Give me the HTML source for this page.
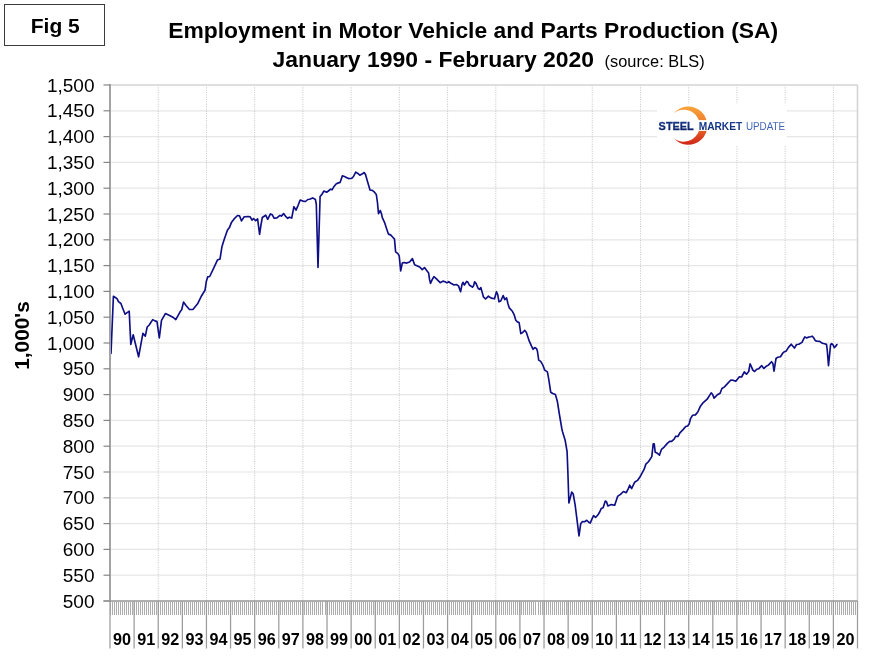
<!DOCTYPE html><html><head><meta charset="utf-8"><title>Employment in Motor Vehicle and Parts Production</title>
<style>html,body{margin:0;padding:0;background:#fff;}svg{display:block;}text{font-family:"Liberation Sans",Arial,sans-serif;}</style></head><body>
<svg width="872" height="671" viewBox="0 0 872 671">
<rect x="0" y="0" width="872" height="671" fill="#fff"/>
<rect x="4.5" y="4.5" width="100" height="41" fill="#fff" stroke="#3c3c3c" stroke-width="1"/>
<text x="55.3" y="33" font-size="21" font-weight="bold" text-anchor="middle" fill="#000">Fig 5</text>
<text x="168.2" y="38.1" font-size="22.6" font-weight="bold" textLength="610" lengthAdjust="spacingAndGlyphs" fill="#000">Employment in Motor Vehicle and Parts Production (SA)</text>
<text x="272.6" y="66.6" font-size="22.6" font-weight="bold" textLength="321.5" lengthAdjust="spacingAndGlyphs" fill="#000">January 1990 - February 2020</text>
<text x="604.6" y="66.5" font-size="16.4" textLength="100" lengthAdjust="spacingAndGlyphs" fill="#000">(source: BLS)</text>
<line x1="110.0" y1="110.80" x2="857.5" y2="110.80" stroke="#e6e6e6" stroke-width="1.2"/>
<line x1="110.0" y1="136.60" x2="857.5" y2="136.60" stroke="#e6e6e6" stroke-width="1.2"/>
<line x1="110.0" y1="162.40" x2="857.5" y2="162.40" stroke="#e6e6e6" stroke-width="1.2"/>
<line x1="110.0" y1="188.20" x2="857.5" y2="188.20" stroke="#e6e6e6" stroke-width="1.2"/>
<line x1="110.0" y1="214.00" x2="857.5" y2="214.00" stroke="#e6e6e6" stroke-width="1.2"/>
<line x1="110.0" y1="239.80" x2="857.5" y2="239.80" stroke="#e6e6e6" stroke-width="1.2"/>
<line x1="110.0" y1="265.60" x2="857.5" y2="265.60" stroke="#e6e6e6" stroke-width="1.2"/>
<line x1="110.0" y1="291.40" x2="857.5" y2="291.40" stroke="#e6e6e6" stroke-width="1.2"/>
<line x1="110.0" y1="317.20" x2="857.5" y2="317.20" stroke="#e6e6e6" stroke-width="1.2"/>
<line x1="110.0" y1="343.00" x2="857.5" y2="343.00" stroke="#e6e6e6" stroke-width="1.2"/>
<line x1="110.0" y1="368.80" x2="857.5" y2="368.80" stroke="#e6e6e6" stroke-width="1.2"/>
<line x1="110.0" y1="394.60" x2="857.5" y2="394.60" stroke="#e6e6e6" stroke-width="1.2"/>
<line x1="110.0" y1="420.40" x2="857.5" y2="420.40" stroke="#e6e6e6" stroke-width="1.2"/>
<line x1="110.0" y1="446.20" x2="857.5" y2="446.20" stroke="#e6e6e6" stroke-width="1.2"/>
<line x1="110.0" y1="472.00" x2="857.5" y2="472.00" stroke="#e6e6e6" stroke-width="1.2"/>
<line x1="110.0" y1="497.80" x2="857.5" y2="497.80" stroke="#e6e6e6" stroke-width="1.2"/>
<line x1="110.0" y1="523.60" x2="857.5" y2="523.60" stroke="#e6e6e6" stroke-width="1.2"/>
<line x1="110.0" y1="549.40" x2="857.5" y2="549.40" stroke="#e6e6e6" stroke-width="1.2"/>
<line x1="110.0" y1="575.20" x2="857.5" y2="575.20" stroke="#e6e6e6" stroke-width="1.2"/>
<line x1="158.23" y1="85.0" x2="158.23" y2="601.0" stroke="#c4c4c4" stroke-width="1" stroke-dasharray="1,1.35"/>
<line x1="206.45" y1="85.0" x2="206.45" y2="601.0" stroke="#c4c4c4" stroke-width="1" stroke-dasharray="1,1.35"/>
<line x1="254.68" y1="85.0" x2="254.68" y2="601.0" stroke="#c4c4c4" stroke-width="1" stroke-dasharray="1,1.35"/>
<line x1="302.90" y1="85.0" x2="302.90" y2="601.0" stroke="#c4c4c4" stroke-width="1" stroke-dasharray="1,1.35"/>
<line x1="351.13" y1="85.0" x2="351.13" y2="601.0" stroke="#c4c4c4" stroke-width="1" stroke-dasharray="1,1.35"/>
<line x1="399.35" y1="85.0" x2="399.35" y2="601.0" stroke="#c4c4c4" stroke-width="1" stroke-dasharray="1,1.35"/>
<line x1="447.58" y1="85.0" x2="447.58" y2="601.0" stroke="#c4c4c4" stroke-width="1" stroke-dasharray="1,1.35"/>
<line x1="495.81" y1="85.0" x2="495.81" y2="601.0" stroke="#c4c4c4" stroke-width="1" stroke-dasharray="1,1.35"/>
<line x1="544.03" y1="85.0" x2="544.03" y2="601.0" stroke="#c4c4c4" stroke-width="1" stroke-dasharray="1,1.35"/>
<line x1="592.26" y1="85.0" x2="592.26" y2="601.0" stroke="#c4c4c4" stroke-width="1" stroke-dasharray="1,1.35"/>
<line x1="640.48" y1="85.0" x2="640.48" y2="601.0" stroke="#c4c4c4" stroke-width="1" stroke-dasharray="1,1.35"/>
<line x1="688.71" y1="85.0" x2="688.71" y2="601.0" stroke="#c4c4c4" stroke-width="1" stroke-dasharray="1,1.35"/>
<line x1="736.94" y1="85.0" x2="736.94" y2="601.0" stroke="#c4c4c4" stroke-width="1" stroke-dasharray="1,1.35"/>
<line x1="785.16" y1="85.0" x2="785.16" y2="601.0" stroke="#c4c4c4" stroke-width="1" stroke-dasharray="1,1.35"/>
<line x1="833.39" y1="85.0" x2="833.39" y2="601.0" stroke="#c4c4c4" stroke-width="1" stroke-dasharray="1,1.35"/>
<line x1="110.0" y1="85.0" x2="857.5" y2="85.0" stroke="#d4d4d4" stroke-width="1.6"/>
<line x1="857.5" y1="85.0" x2="857.5" y2="601.0" stroke="#d4d4d4" stroke-width="1.6"/>
<rect x="657" y="104" width="130" height="41" fill="#fff"/>
<defs><linearGradient id="lg" x1="0" y1="0" x2="0" y2="1"><stop offset="0" stop-color="#f8a43a"/><stop offset="0.45" stop-color="#f07a2c"/><stop offset="1" stop-color="#cf2418"/></linearGradient><linearGradient id="tg" x1="0" y1="0" x2="0" y2="1"><stop offset="0" stop-color="#1c3f96"/><stop offset="1" stop-color="#081c62"/></linearGradient><linearGradient id="tg3" x1="0" y1="0" x2="0" y2="1"><stop offset="0" stop-color="#1e4aa2"/><stop offset="1" stop-color="#0a226e"/></linearGradient><linearGradient id="tg2" x1="0" y1="0" x2="0" y2="1"><stop offset="0" stop-color="#5c80c8"/><stop offset="1" stop-color="#2c50a6"/></linearGradient></defs>
<path d="M 673.6 113.0 A 19.1 19.1 0 1 1 673.6 138.3 A 16.0 16.0 0 1 0 673.6 113.0 Z" fill="url(#lg)" transform="translate(0.3,0)"/>
<rect x="662" y="120.1" width="50" height="10.8" fill="#fff"/>
<text x="658.6" y="129.5" font-size="11.8" font-weight="bold" fill="url(#tg)" stroke="url(#tg)" stroke-width="0.3" textLength="35.2" lengthAdjust="spacingAndGlyphs">STEEL</text>
<text x="698.7" y="129.5" font-size="11.8" fill="url(#tg3)" font-weight="bold" textLength="43.5" lengthAdjust="spacingAndGlyphs">MARKET</text>
<text x="745.9" y="129.5" font-size="11.8" fill="url(#tg2)" textLength="39.2" lengthAdjust="spacingAndGlyphs">UPDATE</text>
<path d="M 111.0 353.5 L 113.4 296.3 L 115.3 297.5 L 117.0 298.7 L 118.5 301.7 L 120.9 303.5 L 122.7 308.2 L 125.1 314.2 L 127.5 312.4 L 129.2 311.2 L 130.8 344.4 L 133.2 334.8 L 138.6 356.8 L 142.9 333.4 L 145.3 336.1 L 147.2 327.0 L 149.2 325.0 L 152.7 319.6 L 155.0 320.9 L 157.0 321.6 L 159.3 338.0 L 161.5 320.4 L 165.4 313.6 L 170.1 315.8 L 172.8 317.2 L 175.8 319.6 L 180.1 311.8 L 181.7 309.8 L 183.5 302.1 L 186.2 305.8 L 189.5 309.5 L 192.9 309.5 L 197.6 303.8 L 201.6 295.7 L 205.0 290.3 L 206.3 281.6 L 207.7 276.9 L 209.7 276.5 L 213.7 268.2 L 217.4 260.1 L 220.0 259.1 L 222.0 246.4 L 224.1 239.7 L 227.4 230.3 L 229.4 227.6 L 231.4 222.6 L 234.1 218.9 L 237.5 215.5 L 239.5 215.8 L 241.5 220.9 L 244.2 216.8 L 248.2 216.6 L 250.2 216.8 L 252.0 220.2 L 253.6 218.5 L 255.6 220.6 L 257.6 218.9 L 259.6 234.3 L 261.0 224.9 L 262.3 217.5 L 265.7 215.2 L 267.7 219.3 L 270.4 213.9 L 272.3 214.8 L 274.2 218.3 L 276.9 217.9 L 280.0 215.4 L 281.4 216.1 L 283.6 213.6 L 285.4 216.1 L 287.7 218.3 L 289.4 217.2 L 291.7 218.1 L 293.9 206.7 L 296.0 210.2 L 297.9 205.8 L 300.2 200.0 L 302.9 201.1 L 305.5 201.5 L 307.8 199.5 L 309.6 199.3 L 312.7 197.9 L 315.4 199.5 L 316.3 204.0 L 318.0 267.5 L 320.1 196.5 L 322.1 194.1 L 323.9 191.0 L 326.6 192.2 L 328.4 191.0 L 330.6 189.2 L 332.0 189.8 L 333.8 186.8 L 336.1 184.0 L 337.8 183.1 L 340.1 182.4 L 342.3 175.9 L 344.5 176.5 L 346.3 177.4 L 348.6 178.6 L 351.7 178.3 L 353.5 176.5 L 355.7 172.1 L 357.5 173.2 L 359.8 175.2 L 362.0 174.1 L 364.2 172.5 L 365.6 174.8 L 367.8 182.4 L 370.0 190.0 L 372.3 190.4 L 374.5 192.2 L 376.3 194.4 L 377.4 202.0 L 378.5 213.7 L 380.3 210.5 L 381.7 214.6 L 382.2 217.3 L 384.5 222.3 L 386.7 229.0 L 388.4 234.1 L 390.6 234.9 L 392.8 237.2 L 394.5 239.1 L 395.6 251.9 L 397.9 253.6 L 399.2 255.8 L 400.7 270.9 L 402.3 263.1 L 404.0 262.5 L 406.8 263.1 L 409.6 262.0 L 412.4 258.6 L 414.6 264.8 L 417.4 265.9 L 419.7 267.0 L 422.2 269.6 L 424.5 267.6 L 426.7 270.4 L 428.6 272.9 L 429.5 279.2 L 430.5 283.4 L 432.2 279.6 L 433.9 276.6 L 436.2 278.7 L 438.4 280.9 L 440.2 282.7 L 442.9 281.1 L 445.1 281.8 L 446.9 282.9 L 448.7 281.7 L 450.9 283.2 L 454.1 285.0 L 456.3 284.5 L 458.5 285.9 L 460.6 291.7 L 462.1 284.1 L 463.0 282.3 L 464.4 285.0 L 466.6 281.4 L 467.8 282.0 L 469.3 285.0 L 472.4 287.2 L 473.7 285.4 L 474.6 281.8 L 476.0 283.4 L 478.2 288.5 L 479.6 289.4 L 480.9 287.6 L 481.7 290.6 L 483.4 296.8 L 485.6 299.0 L 488.4 296.2 L 491.2 298.1 L 494.5 298.8 L 496.5 291.7 L 497.7 294.5 L 499.0 301.8 L 500.7 301.0 L 503.2 295.6 L 504.8 299.6 L 506.6 297.9 L 507.9 303.5 L 509.3 307.9 L 512.4 311.3 L 514.1 314.6 L 515.8 320.2 L 517.4 321.9 L 519.1 322.5 L 520.8 333.6 L 522.7 332.5 L 524.7 330.3 L 526.4 332.5 L 529.2 340.9 L 531.4 345.9 L 533.1 349.3 L 534.7 347.6 L 536.4 348.4 L 537.4 351.0 L 538.7 360.1 L 540.7 361.4 L 542.7 364.8 L 544.7 370.1 L 547.4 371.9 L 548.7 378.8 L 550.7 392.2 L 552.8 393.5 L 555.4 394.6 L 557.4 401.6 L 559.5 415.0 L 561.9 429.0 L 562.4 431.2 L 565.2 440.5 L 567.1 451.7 L 567.8 470.0 L 568.9 503.0 L 571.7 492.1 L 573.2 494.0 L 575.1 504.7 L 576.8 518.1 L 579.0 536.0 L 580.7 523.7 L 582.4 521.5 L 584.6 521.7 L 586.8 520.3 L 588.5 522.0 L 590.2 523.1 L 591.9 519.2 L 593.6 515.6 L 595.6 517.5 L 598.0 514.7 L 599.7 512.0 L 601.2 508.6 L 603.1 507.8 L 605.3 501.1 L 606.5 501.7 L 607.9 506.0 L 611.3 504.6 L 614.7 505.3 L 617.6 496.4 L 620.5 494.4 L 623.4 491.5 L 626.3 492.7 L 628.3 488.6 L 629.7 485.2 L 631.6 488.6 L 634.6 482.3 L 637.5 480.4 L 639.9 477.0 L 641.8 473.6 L 644.2 469.2 L 645.7 464.4 L 648.6 461.5 L 651.8 456.6 L 653.2 443.9 L 654.2 443.9 L 655.2 452.2 L 657.1 453.1 L 659.5 455.1 L 661.5 449.3 L 664.4 446.8 L 667.3 443.4 L 669.7 441.3 L 671.6 441.3 L 674.1 439.1 L 675.8 436.2 L 677.9 436.5 L 679.9 432.8 L 682.8 429.9 L 685.7 426.5 L 687.6 426.0 L 689.1 424.1 L 690.5 418.7 L 692.5 415.3 L 695.4 414.9 L 697.8 412.0 L 700.2 406.6 L 702.7 403.2 L 707.2 399.2 L 709.4 395.6 L 711.2 392.9 L 712.5 394.3 L 714.1 398.1 L 717.4 394.7 L 720.1 393.2 L 721.9 388.5 L 724.2 387.1 L 726.8 384.4 L 728.6 382.4 L 730.9 380.0 L 733.1 380.2 L 735.8 381.3 L 739.4 376.8 L 741.6 377.0 L 744.3 371.9 L 746.5 374.2 L 748.7 371.5 L 750.1 363.9 L 751.4 366.5 L 752.8 370.1 L 754.6 371.5 L 756.8 369.2 L 758.6 368.8 L 761.7 365.7 L 763.9 368.4 L 766.2 366.3 L 768.4 365.1 L 771.5 361.7 L 772.9 363.5 L 774.0 371.1 L 776.0 358.5 L 777.8 357.2 L 780.5 356.8 L 782.7 353.2 L 784.5 351.7 L 786.3 350.9 L 788.5 347.4 L 791.2 344.2 L 794.4 348.1 L 796.6 344.5 L 798.8 344.2 L 802.0 342.4 L 803.7 338.8 L 804.8 336.9 L 806.7 338.0 L 808.6 337.1 L 810.4 336.8 L 812.3 336.2 L 813.8 338.0 L 815.3 340.6 L 817.1 341.2 L 819.7 341.4 L 822.4 343.3 L 824.6 343.8 L 826.5 344.4 L 827.2 349.6 L 828.5 365.6 L 830.6 344.7 L 831.7 343.6 L 833.2 345.1 L 834.3 347.7 L 835.8 346.2 L 836.9 344.5" fill="none" stroke="#0e0e86" stroke-width="1.65" stroke-linejoin="round" stroke-linecap="round"/>
<line x1="110.0" y1="84.0" x2="110.0" y2="602.0" stroke="#a4a4a4" stroke-width="2"/>
<line x1="103.5" y1="85.00" x2="110.0" y2="85.00" stroke="#858585" stroke-width="1.2"/>
<text x="94.5" y="91.60" font-size="19" text-anchor="end" fill="#000">1,500</text>
<line x1="103.5" y1="110.80" x2="110.0" y2="110.80" stroke="#858585" stroke-width="1.2"/>
<text x="94.5" y="117.40" font-size="19" text-anchor="end" fill="#000">1,450</text>
<line x1="103.5" y1="136.60" x2="110.0" y2="136.60" stroke="#858585" stroke-width="1.2"/>
<text x="94.5" y="143.20" font-size="19" text-anchor="end" fill="#000">1,400</text>
<line x1="103.5" y1="162.40" x2="110.0" y2="162.40" stroke="#858585" stroke-width="1.2"/>
<text x="94.5" y="169.00" font-size="19" text-anchor="end" fill="#000">1,350</text>
<line x1="103.5" y1="188.20" x2="110.0" y2="188.20" stroke="#858585" stroke-width="1.2"/>
<text x="94.5" y="194.80" font-size="19" text-anchor="end" fill="#000">1,300</text>
<line x1="103.5" y1="214.00" x2="110.0" y2="214.00" stroke="#858585" stroke-width="1.2"/>
<text x="94.5" y="220.60" font-size="19" text-anchor="end" fill="#000">1,250</text>
<line x1="103.5" y1="239.80" x2="110.0" y2="239.80" stroke="#858585" stroke-width="1.2"/>
<text x="94.5" y="246.40" font-size="19" text-anchor="end" fill="#000">1,200</text>
<line x1="103.5" y1="265.60" x2="110.0" y2="265.60" stroke="#858585" stroke-width="1.2"/>
<text x="94.5" y="272.20" font-size="19" text-anchor="end" fill="#000">1,150</text>
<line x1="103.5" y1="291.40" x2="110.0" y2="291.40" stroke="#858585" stroke-width="1.2"/>
<text x="94.5" y="298.00" font-size="19" text-anchor="end" fill="#000">1,100</text>
<line x1="103.5" y1="317.20" x2="110.0" y2="317.20" stroke="#858585" stroke-width="1.2"/>
<text x="94.5" y="323.80" font-size="19" text-anchor="end" fill="#000">1,050</text>
<line x1="103.5" y1="343.00" x2="110.0" y2="343.00" stroke="#858585" stroke-width="1.2"/>
<text x="94.5" y="349.60" font-size="19" text-anchor="end" fill="#000">1,000</text>
<line x1="103.5" y1="368.80" x2="110.0" y2="368.80" stroke="#858585" stroke-width="1.2"/>
<text x="94.5" y="375.40" font-size="19" text-anchor="end" fill="#000">950</text>
<line x1="103.5" y1="394.60" x2="110.0" y2="394.60" stroke="#858585" stroke-width="1.2"/>
<text x="94.5" y="401.20" font-size="19" text-anchor="end" fill="#000">900</text>
<line x1="103.5" y1="420.40" x2="110.0" y2="420.40" stroke="#858585" stroke-width="1.2"/>
<text x="94.5" y="427.00" font-size="19" text-anchor="end" fill="#000">850</text>
<line x1="103.5" y1="446.20" x2="110.0" y2="446.20" stroke="#858585" stroke-width="1.2"/>
<text x="94.5" y="452.80" font-size="19" text-anchor="end" fill="#000">800</text>
<line x1="103.5" y1="472.00" x2="110.0" y2="472.00" stroke="#858585" stroke-width="1.2"/>
<text x="94.5" y="478.60" font-size="19" text-anchor="end" fill="#000">750</text>
<line x1="103.5" y1="497.80" x2="110.0" y2="497.80" stroke="#858585" stroke-width="1.2"/>
<text x="94.5" y="504.40" font-size="19" text-anchor="end" fill="#000">700</text>
<line x1="103.5" y1="523.60" x2="110.0" y2="523.60" stroke="#858585" stroke-width="1.2"/>
<text x="94.5" y="530.20" font-size="19" text-anchor="end" fill="#000">650</text>
<line x1="103.5" y1="549.40" x2="110.0" y2="549.40" stroke="#858585" stroke-width="1.2"/>
<text x="94.5" y="556.00" font-size="19" text-anchor="end" fill="#000">600</text>
<line x1="103.5" y1="575.20" x2="110.0" y2="575.20" stroke="#858585" stroke-width="1.2"/>
<text x="94.5" y="581.80" font-size="19" text-anchor="end" fill="#000">550</text>
<line x1="103.5" y1="601.00" x2="110.0" y2="601.00" stroke="#858585" stroke-width="1.2"/>
<text x="94.5" y="607.60" font-size="19" text-anchor="end" fill="#000">500</text>
<line x1="103.5" y1="601.0" x2="857.5" y2="601.0" stroke="#969696" stroke-width="1.5"/>
<path d="M110.5 601.0 V615 M112.5 601.0 V615 M114.5 601.0 V615 M116.5 601.0 V615 M118.5 601.0 V615 M120.5 601.0 V615 M122.5 601.0 V615 M124.5 601.0 V615 M126.5 601.0 V615 M128.5 601.0 V615 M130.5 601.0 V615 M132.5 601.0 V615 M134.5 601.0 V615 M136.5 601.0 V615 M138.5 601.0 V615 M140.5 601.0 V615 M142.5 601.0 V615 M144.5 601.0 V615 M146.5 601.0 V615 M148.5 601.0 V615 M150.5 601.0 V615 M152.5 601.0 V615 M154.5 601.0 V615 M156.5 601.0 V615 M158.5 601.0 V615 M160.5 601.0 V615 M162.5 601.0 V615 M164.5 601.0 V615 M166.5 601.0 V615 M168.5 601.0 V615 M170.5 601.0 V615 M172.5 601.0 V615 M174.5 601.0 V615 M176.5 601.0 V615 M178.5 601.0 V615 M180.5 601.0 V615 M182.5 601.0 V615 M184.5 601.0 V615 M186.5 601.0 V615 M188.5 601.0 V615 M190.5 601.0 V615 M192.5 601.0 V615 M194.5 601.0 V615 M196.5 601.0 V615 M198.5 601.0 V615 M200.5 601.0 V615 M202.5 601.0 V615 M204.5 601.0 V615 M206.5 601.0 V615 M208.5 601.0 V615 M210.5 601.0 V615 M212.5 601.0 V615 M214.5 601.0 V615 M216.5 601.0 V615 M218.5 601.0 V615 M220.5 601.0 V615 M222.5 601.0 V615 M224.5 601.0 V615 M226.5 601.0 V615 M228.5 601.0 V615 M230.5 601.0 V615 M232.5 601.0 V615 M234.5 601.0 V615 M236.5 601.0 V615 M238.5 601.0 V615 M240.5 601.0 V615 M242.5 601.0 V615 M244.5 601.0 V615 M246.5 601.0 V615 M248.5 601.0 V615 M250.5 601.0 V615 M252.5 601.0 V615 M254.5 601.0 V615 M256.5 601.0 V615 M258.5 601.0 V615 M260.5 601.0 V615 M262.5 601.0 V615 M264.5 601.0 V615 M266.5 601.0 V615 M268.5 601.0 V615 M270.5 601.0 V615 M272.5 601.0 V615 M274.5 601.0 V615 M276.5 601.0 V615 M278.5 601.0 V615 M280.5 601.0 V615 M282.5 601.0 V615 M284.5 601.0 V615 M286.5 601.0 V615 M288.5 601.0 V615 M290.5 601.0 V615 M292.5 601.0 V615 M294.5 601.0 V615 M296.5 601.0 V615 M298.5 601.0 V615 M300.5 601.0 V615 M302.5 601.0 V615 M304.5 601.0 V615 M306.5 601.0 V615 M308.5 601.0 V615 M310.5 601.0 V615 M312.5 601.0 V615 M314.5 601.0 V615 M316.5 601.0 V615 M318.5 601.0 V615 M320.5 601.0 V615 M322.5 601.0 V615 M325.5 601.0 V615 M327.5 601.0 V615 M329.5 601.0 V615 M331.5 601.0 V615 M333.5 601.0 V615 M335.5 601.0 V615 M337.5 601.0 V615 M339.5 601.0 V615 M341.5 601.0 V615 M343.5 601.0 V615 M345.5 601.0 V615 M347.5 601.0 V615 M349.5 601.0 V615 M351.5 601.0 V615 M353.5 601.0 V615 M355.5 601.0 V615 M357.5 601.0 V615 M359.5 601.0 V615 M361.5 601.0 V615 M363.5 601.0 V615 M365.5 601.0 V615 M367.5 601.0 V615 M369.5 601.0 V615 M371.5 601.0 V615 M373.5 601.0 V615 M375.5 601.0 V615 M377.5 601.0 V615 M379.5 601.0 V615 M381.5 601.0 V615 M383.5 601.0 V615 M385.5 601.0 V615 M387.5 601.0 V615 M389.5 601.0 V615 M391.5 601.0 V615 M393.5 601.0 V615 M395.5 601.0 V615 M397.5 601.0 V615 M399.5 601.0 V615 M401.5 601.0 V615 M403.5 601.0 V615 M405.5 601.0 V615 M407.5 601.0 V615 M409.5 601.0 V615 M411.5 601.0 V615 M413.5 601.0 V615 M415.5 601.0 V615 M417.5 601.0 V615 M419.5 601.0 V615 M421.5 601.0 V615 M423.5 601.0 V615 M425.5 601.0 V615 M427.5 601.0 V615 M429.5 601.0 V615 M431.5 601.0 V615 M433.5 601.0 V615 M435.5 601.0 V615 M437.5 601.0 V615 M439.5 601.0 V615 M441.5 601.0 V615 M443.5 601.0 V615 M445.5 601.0 V615 M447.5 601.0 V615 M449.5 601.0 V615 M451.5 601.0 V615 M453.5 601.0 V615 M455.5 601.0 V615 M457.5 601.0 V615 M459.5 601.0 V615 M461.5 601.0 V615 M463.5 601.0 V615 M465.5 601.0 V615 M467.5 601.0 V615 M469.5 601.0 V615 M471.5 601.0 V615 M473.5 601.0 V615 M475.5 601.0 V615 M477.5 601.0 V615 M479.5 601.0 V615 M481.5 601.0 V615 M483.5 601.0 V615 M485.5 601.0 V615 M487.5 601.0 V615 M489.5 601.0 V615 M491.5 601.0 V615 M493.5 601.0 V615 M495.5 601.0 V615 M497.5 601.0 V615 M499.5 601.0 V615 M501.5 601.0 V615 M503.5 601.0 V615 M505.5 601.0 V615 M507.5 601.0 V615 M509.5 601.0 V615 M511.5 601.0 V615 M513.5 601.0 V615 M515.5 601.0 V615 M517.5 601.0 V615 M519.5 601.0 V615 M521.5 601.0 V615 M523.5 601.0 V615 M525.5 601.0 V615 M527.5 601.0 V615 M529.5 601.0 V615 M531.5 601.0 V615 M533.5 601.0 V615 M535.5 601.0 V615 M538.5 601.0 V615 M540.5 601.0 V615 M542.5 601.0 V615 M544.5 601.0 V615 M546.5 601.0 V615 M548.5 601.0 V615 M550.5 601.0 V615 M552.5 601.0 V615 M554.5 601.0 V615 M556.5 601.0 V615 M558.5 601.0 V615 M560.5 601.0 V615 M562.5 601.0 V615 M564.5 601.0 V615 M566.5 601.0 V615 M568.5 601.0 V615 M570.5 601.0 V615 M572.5 601.0 V615 M574.5 601.0 V615 M576.5 601.0 V615 M578.5 601.0 V615 M580.5 601.0 V615 M582.5 601.0 V615 M584.5 601.0 V615 M586.5 601.0 V615 M588.5 601.0 V615 M590.5 601.0 V615 M592.5 601.0 V615 M594.5 601.0 V615 M596.5 601.0 V615 M598.5 601.0 V615 M600.5 601.0 V615 M602.5 601.0 V615 M604.5 601.0 V615 M606.5 601.0 V615 M608.5 601.0 V615 M610.5 601.0 V615 M612.5 601.0 V615 M614.5 601.0 V615 M616.5 601.0 V615 M618.5 601.0 V615 M620.5 601.0 V615 M622.5 601.0 V615 M624.5 601.0 V615 M626.5 601.0 V615 M628.5 601.0 V615 M630.5 601.0 V615 M632.5 601.0 V615 M634.5 601.0 V615 M636.5 601.0 V615 M638.5 601.0 V615 M640.5 601.0 V615 M642.5 601.0 V615 M644.5 601.0 V615 M646.5 601.0 V615 M648.5 601.0 V615 M650.5 601.0 V615 M652.5 601.0 V615 M654.5 601.0 V615 M656.5 601.0 V615 M658.5 601.0 V615 M660.5 601.0 V615 M662.5 601.0 V615 M664.5 601.0 V615 M666.5 601.0 V615 M668.5 601.0 V615 M670.5 601.0 V615 M672.5 601.0 V615 M674.5 601.0 V615 M676.5 601.0 V615 M678.5 601.0 V615 M680.5 601.0 V615 M682.5 601.0 V615 M684.5 601.0 V615 M686.5 601.0 V615 M688.5 601.0 V615 M690.5 601.0 V615 M692.5 601.0 V615 M694.5 601.0 V615 M696.5 601.0 V615 M698.5 601.0 V615 M700.5 601.0 V615 M702.5 601.0 V615 M704.5 601.0 V615 M706.5 601.0 V615 M708.5 601.0 V615 M710.5 601.0 V615 M712.5 601.0 V615 M714.5 601.0 V615 M716.5 601.0 V615 M718.5 601.0 V615 M720.5 601.0 V615 M722.5 601.0 V615 M724.5 601.0 V615 M726.5 601.0 V615 M728.5 601.0 V615 M730.5 601.0 V615 M732.5 601.0 V615 M734.5 601.0 V615 M736.5 601.0 V615 M738.5 601.0 V615 M740.5 601.0 V615 M742.5 601.0 V615 M744.5 601.0 V615 M746.5 601.0 V615 M748.5 601.0 V615 M751.5 601.0 V615 M753.5 601.0 V615 M755.5 601.0 V615 M757.5 601.0 V615 M759.5 601.0 V615 M761.5 601.0 V615 M763.5 601.0 V615 M765.5 601.0 V615 M767.5 601.0 V615 M769.5 601.0 V615 M771.5 601.0 V615 M773.5 601.0 V615 M775.5 601.0 V615 M777.5 601.0 V615 M779.5 601.0 V615 M781.5 601.0 V615 M783.5 601.0 V615 M785.5 601.0 V615 M787.5 601.0 V615 M789.5 601.0 V615 M791.5 601.0 V615 M793.5 601.0 V615 M795.5 601.0 V615 M797.5 601.0 V615 M799.5 601.0 V615 M801.5 601.0 V615 M803.5 601.0 V615 M805.5 601.0 V615 M807.5 601.0 V615 M809.5 601.0 V615 M811.5 601.0 V615 M813.5 601.0 V615 M815.5 601.0 V615 M817.5 601.0 V615 M819.5 601.0 V615 M821.5 601.0 V615 M823.5 601.0 V615 M825.5 601.0 V615 M827.5 601.0 V615 M829.5 601.0 V615 M831.5 601.0 V615 M833.5 601.0 V615 M835.5 601.0 V615 M837.5 601.0 V615 M839.5 601.0 V615 M841.5 601.0 V615 M843.5 601.0 V615 M845.5 601.0 V615 M847.5 601.0 V615 M849.5 601.0 V615 M851.5 601.0 V615 M853.5 601.0 V615 M855.5 601.0 V615 M857.5 601.0 V615" stroke="#acacac" stroke-width="1" fill="none" shape-rendering="crispEdges"/>
<path d="M110.00 601.0 V648.6 M134.11 601.0 V648.6 M158.23 601.0 V648.6 M182.34 601.0 V648.6 M206.45 601.0 V648.6 M230.56 601.0 V648.6 M254.68 601.0 V648.6 M278.79 601.0 V648.6 M302.90 601.0 V648.6 M327.02 601.0 V648.6 M351.13 601.0 V648.6 M375.24 601.0 V648.6 M399.35 601.0 V648.6 M423.47 601.0 V648.6 M447.58 601.0 V648.6 M471.69 601.0 V648.6 M495.81 601.0 V648.6 M519.92 601.0 V648.6 M544.03 601.0 V648.6 M568.15 601.0 V648.6 M592.26 601.0 V648.6 M616.37 601.0 V648.6 M640.48 601.0 V648.6 M664.60 601.0 V648.6 M688.71 601.0 V648.6 M712.82 601.0 V648.6 M736.94 601.0 V648.6 M761.05 601.0 V648.6 M785.16 601.0 V648.6 M809.27 601.0 V648.6 M833.39 601.0 V648.6 M857.50 601.0 V648.6" stroke="#9c9c9c" stroke-width="1.25" fill="none"/>
<text x="122.06" y="644.8" font-size="16.2" font-weight="bold" text-anchor="middle" fill="#000">90</text>
<text x="146.17" y="644.8" font-size="16.2" font-weight="bold" text-anchor="middle" fill="#000">91</text>
<text x="170.28" y="644.8" font-size="16.2" font-weight="bold" text-anchor="middle" fill="#000">92</text>
<text x="194.40" y="644.8" font-size="16.2" font-weight="bold" text-anchor="middle" fill="#000">93</text>
<text x="218.51" y="644.8" font-size="16.2" font-weight="bold" text-anchor="middle" fill="#000">94</text>
<text x="242.62" y="644.8" font-size="16.2" font-weight="bold" text-anchor="middle" fill="#000">95</text>
<text x="266.73" y="644.8" font-size="16.2" font-weight="bold" text-anchor="middle" fill="#000">96</text>
<text x="290.85" y="644.8" font-size="16.2" font-weight="bold" text-anchor="middle" fill="#000">97</text>
<text x="314.96" y="644.8" font-size="16.2" font-weight="bold" text-anchor="middle" fill="#000">98</text>
<text x="339.07" y="644.8" font-size="16.2" font-weight="bold" text-anchor="middle" fill="#000">99</text>
<text x="363.19" y="644.8" font-size="16.2" font-weight="bold" text-anchor="middle" fill="#000">00</text>
<text x="387.30" y="644.8" font-size="16.2" font-weight="bold" text-anchor="middle" fill="#000">01</text>
<text x="411.41" y="644.8" font-size="16.2" font-weight="bold" text-anchor="middle" fill="#000">02</text>
<text x="435.52" y="644.8" font-size="16.2" font-weight="bold" text-anchor="middle" fill="#000">03</text>
<text x="459.64" y="644.8" font-size="16.2" font-weight="bold" text-anchor="middle" fill="#000">04</text>
<text x="483.75" y="644.8" font-size="16.2" font-weight="bold" text-anchor="middle" fill="#000">05</text>
<text x="507.86" y="644.8" font-size="16.2" font-weight="bold" text-anchor="middle" fill="#000">06</text>
<text x="531.98" y="644.8" font-size="16.2" font-weight="bold" text-anchor="middle" fill="#000">07</text>
<text x="556.09" y="644.8" font-size="16.2" font-weight="bold" text-anchor="middle" fill="#000">08</text>
<text x="580.20" y="644.8" font-size="16.2" font-weight="bold" text-anchor="middle" fill="#000">09</text>
<text x="604.31" y="644.8" font-size="16.2" font-weight="bold" text-anchor="middle" fill="#000">10</text>
<text x="628.43" y="644.8" font-size="16.2" font-weight="bold" text-anchor="middle" fill="#000">11</text>
<text x="652.54" y="644.8" font-size="16.2" font-weight="bold" text-anchor="middle" fill="#000">12</text>
<text x="676.65" y="644.8" font-size="16.2" font-weight="bold" text-anchor="middle" fill="#000">13</text>
<text x="700.77" y="644.8" font-size="16.2" font-weight="bold" text-anchor="middle" fill="#000">14</text>
<text x="724.88" y="644.8" font-size="16.2" font-weight="bold" text-anchor="middle" fill="#000">15</text>
<text x="748.99" y="644.8" font-size="16.2" font-weight="bold" text-anchor="middle" fill="#000">16</text>
<text x="773.10" y="644.8" font-size="16.2" font-weight="bold" text-anchor="middle" fill="#000">17</text>
<text x="797.22" y="644.8" font-size="16.2" font-weight="bold" text-anchor="middle" fill="#000">18</text>
<text x="821.33" y="644.8" font-size="16.2" font-weight="bold" text-anchor="middle" fill="#000">19</text>
<text x="845.44" y="644.8" font-size="16.2" font-weight="bold" text-anchor="middle" fill="#000">20</text>
<text transform="translate(29.4,335.5) rotate(-90)" font-size="20.8" font-weight="bold" text-anchor="middle" fill="#000">1,000's</text>
</svg></body></html>
